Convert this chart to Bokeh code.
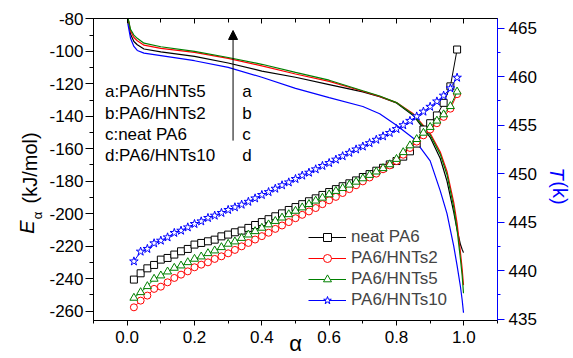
import math
from bokeh.plotting import figure
from bokeh.models import (Range1d, LinearAxis, SingleIntervalTicker, FixedTicker, Label, Arrow,
                          NormalHead, Legend, LegendItem, PrintfTickFormatter)
from bokeh.embed import file_html
from bokeh.resources import INLINE

# ---------------- data ----------------
alpha_pts = [0.02, 0.04, 0.06, 0.08, 0.10, 0.12, 0.14, 0.16, 0.18, 0.20,
             0.22, 0.24, 0.26, 0.28, 0.30, 0.32, 0.34, 0.36, 0.38, 0.40,
             0.42, 0.44, 0.46, 0.48, 0.50, 0.52, 0.54, 0.56, 0.58, 0.60,
             0.62, 0.64, 0.66, 0.68, 0.70, 0.72, 0.74, 0.76, 0.78, 0.80,
             0.82, 0.84, 0.86, 0.88, 0.90, 0.92, 0.94, 0.96, 0.98]

T_neat = [439.07, 439.72, 440.23, 440.58, 441.13, 441.30, 441.65, 441.99, 442.23, 442.68,
          442.85, 443.02, 443.19, 443.53, 443.71, 443.95, 444.12, 444.40, 444.70, 445.00,
          445.30, 445.60, 445.90, 446.25, 446.55, 446.85, 447.15, 447.45, 447.80, 448.10,
          448.40, 448.70, 449.00, 449.30, 449.65, 449.95, 450.30, 450.60, 450.95, 451.30,
          451.75, 452.30, 453.10, 454.55, 455.20, 456.00, 457.30, 459.00, 462.80]

T_hnt2 = [436.21, 436.90, 437.42, 438.11, 438.34, 438.79, 439.24, 439.58, 439.92, 440.34,
          440.61, 440.85, 441.20, 441.47, 441.78, 442.13, 442.50, 442.85, 443.20, 443.55,
          443.90, 444.30, 444.65, 445.00, 445.40, 445.75, 446.10, 446.45, 446.85, 447.25,
          447.60, 448.00, 448.40, 448.80, 449.20, 449.60, 450.00, 450.45, 450.85, 451.30,
          451.95, 452.65, 453.30, 453.95, 454.55, 455.20, 455.85, 456.70, 458.20]

T_hnt5 = [437.18, 437.76, 438.38, 439.14, 439.48, 439.89, 440.27, 440.51, 440.85, 441.20,
          441.44, 441.78, 442.06, 442.40, 442.75, 442.99, 443.35, 443.70, 444.05, 444.40,
          444.75, 445.10, 445.45, 445.80, 446.15, 446.50, 446.85, 447.20, 447.50, 447.85,
          448.20, 448.50, 448.85, 449.15, 449.50, 449.85, 450.20, 450.55, 450.95, 451.50,
          452.20, 452.90, 453.55, 454.20, 454.80, 455.45, 456.10, 456.95, 458.45]

T_hnt10 = [440.95, 441.96, 442.24, 442.82, 443.09, 443.43, 443.89, 444.12, 444.46, 444.81,
           445.08, 445.43, 445.67, 445.95, 446.26, 446.53, 446.80, 447.10, 447.45, 447.80,
           448.10, 448.45, 448.80, 449.10, 449.45, 449.80, 450.10, 450.45, 450.80, 451.10,
           451.45, 451.80, 452.15, 452.50, 452.80, 453.15, 453.50, 453.85, 454.20, 454.60,
           455.00, 455.45, 455.90, 456.40, 456.90, 457.45, 458.05, 458.80, 459.90]

ea_alpha = [0.002, 0.01, 0.02, 0.03, 0.05, 0.1, 0.2, 0.3, 0.4, 0.5, 0.6, 0.7, 0.75,
            0.8, 0.85, 0.9, 0.93, 0.95, 0.97, 0.98, 0.99, 0.995, 0.999]
Ea_hnt5 = [-79, -86.5, -90.0, -92.0, -95.0, -97.2, -100.1, -103.8, -108.0, -113.0, -117.8,
           -124.3, -127.5, -131.6, -139.0, -151.5, -163.5, -176, -196, -210, -228, -238, -249]
Ea_hnt2 = [-79, -87.5, -91.5, -93.5, -96.2, -98.2, -100.7, -104.4, -109.0, -114.0, -118.5,
           -124.6, -127.8, -131.6, -138.5, -150.5, -162, -174, -193, -206, -224, -234, -244]
Ea_neat = [-79, -89.5, -94.0, -96.0, -98.6, -100.3, -103.1, -107.2, -112.2, -116.0, -120.5,
           -125.0, -128.0, -131.8, -139.5, -153, -166, -180, -199, -210, -219, -222, -224]
Ea_hnt10 = [-83, -92, -97.0, -99.5, -101.1, -102.7, -105.8, -109.9, -116.0, -122.8, -128.5,
            -134.0, -138.5, -145.5, -153.5, -167.5, -186, -200, -220, -232, -245, -253, -261]

series_names = ["neat PA6", "PA6/HNTs2", "PA6/HNTs5", "PA6/HNTs10"]
note_lines = ["a:PA6/HNTs5", "b:PA6/HNTs2", "c:neat PA6", "d:PA6/HNTs10"]
note_letters = ["a", "b", "c", "d"]

FONT = "Liberation Sans"
W, H = 573, 358

# ---------------- figure ----------------
p = figure(width=W, height=H, x_range=Range1d(-0.1, 1.1),
           y_range=Range1d(-265.8, -79.8), output_backend="svg",
           toolbar_location=None, min_border_left=93, min_border_right=75,
           min_border_top=18, min_border_bottom=38)
p.extra_y_ranges = {"T": Range1d(434.85, 466.0)}
p.xgrid.visible = False
p.ygrid.visible = False
p.outline_line_color = "black"
p.outline_line_width = 1
p.background_fill_color = "white"
p.border_fill_color = "white"

def style_axis(ax, color="black"):
    ax.axis_line_color = color
    ax.major_tick_line_color = color
    ax.minor_tick_line_color = color
    ax.axis_line_width = 1
    ax.major_tick_line_width = 1
    ax.minor_tick_line_width = 1
    ax.major_label_text_font = FONT
    ax.major_label_text_font_size = "17px"
    ax.major_label_text_color = "black"

xa = p.xaxis[0]
xa.ticker = SingleIntervalTicker(interval=0.2, num_minor_ticks=2)
xa.formatter = PrintfTickFormatter(format="%.1f")
style_axis(xa)
xa.major_tick_out = 5
xa.major_tick_in = 0
xa.minor_tick_out = 3
xa.minor_tick_in = 0
xa.major_label_standoff = 5
xa.axis_label = "α"
xa.axis_label_text_font = FONT
xa.axis_label_text_font_size = "22px"
xa.axis_label_text_font_style = "normal"
xa.axis_label_text_color = "black"
xa.axis_label_standoff = -15

ya = p.yaxis[0]
ya.ticker = SingleIntervalTicker(interval=20, num_minor_ticks=2)
ya.formatter = PrintfTickFormatter(format="%d")
style_axis(ya)
ya.major_tick_out = 8
ya.major_tick_in = 0
ya.minor_tick_out = 4
ya.minor_tick_in = 0
ya.major_label_standoff = 2

ra = LinearAxis(y_range_name="T", ticker=SingleIntervalTicker(interval=5, num_minor_ticks=2),
                formatter=PrintfTickFormatter(format="%d"))
style_axis(ra, "blue")
ra.major_tick_out = 7
ra.major_tick_in = 0
ra.minor_tick_out = 3
ra.minor_tick_in = 0
ra.major_label_standoff = 4
p.add_layout(ra, "right")

ta = LinearAxis(ticker=SingleIntervalTicker(interval=0.2, num_minor_ticks=2))
style_axis(ta)
ta.major_tick_out = 0
ta.major_tick_in = 5
ta.minor_tick_out = 0
ta.minor_tick_in = 4
ta.major_label_overrides = {0: "", 0.2: "", 0.4: "", 0.6: "", 0.8: "", 1: ""}
ta.major_label_text_font_size = "1px"
ta.major_label_standoff = 0
p.add_layout(ta, "above")

# axis titles made of text-only axes (tick label = title piece, placed at its own position)
def title_axis(pos, text, size, style, color, standoff):
    ax = LinearAxis(ticker=FixedTicker(ticks=[pos], minor_ticks=[]))
    ax.major_label_overrides = {pos: text}
    ax.axis_line_color = None
    ax.major_tick_line_color = None
    ax.minor_tick_line_color = None
    ax.major_tick_out = 0
    ax.major_tick_in = 0
    ax.minor_tick_out = 0
    ax.minor_tick_in = 0
    ax.major_label_orientation = "parallel"
    ax.major_label_text_font = FONT
    ax.major_label_text_font_size = size
    ax.major_label_text_font_style = style
    ax.major_label_text_color = color
    ax.major_label_standoff = standoff
    return ax

p.add_layout(title_axis(-201.1, "α", "13px", "normal", "black", 1), "left")
p.add_layout(title_axis(-171.8, "(kJ/mol)", "20px", "normal", "black", -14), "left")
p.add_layout(title_axis(-208.2, "E", "20px", "italic", "black", -22), "left")

p.add_layout(title_axis(-175.4, "T", "20px", "italic", "blue", 6), "right")
p.add_layout(title_axis(-187.3, "(k)", "20px", "normal", "blue", -22), "right")

colors = ["black", "red", "green", "blue"]
markers = ["square", "circle", "triangle", "star"]
sizes = [7, 7, 8, 9]
Ts = [T_neat, T_hnt2, T_hnt5, T_hnt10]
Eas = [Ea_neat, Ea_hnt2, Ea_hnt5, Ea_hnt10]

for c, ea in zip(colors, Eas):
    p.line(ea_alpha, ea, line_color=c, line_width=1.2)

items = []
for name, c, m, s, T in zip(series_names, colors, markers, sizes, Ts):
    l = p.line(alpha_pts, T, line_color=c, line_width=1, y_range_name="T")
    sc = p.scatter(alpha_pts, T, marker=m, size=s, fill_color="white",
                   line_color=c, line_width=1, y_range_name="T")
    items.append(LegendItem(label=name, renderers=[l, sc]))

legend = Legend(items=items, location=(215, 10), padding=0, margin=0, spacing=1,
                glyph_width=38, glyph_height=20, label_height=20,
                label_text_font=FONT, label_text_font_size="17px",
                label_standoff=5, border_line_color=None,
                background_fill_alpha=0)
p.add_layout(legend)

note_y = [-124.75, -138.5, -151.4, -164.2]
for t, y in zip(note_lines, note_y):
    p.add_layout(Label(x=-0.066, y=y, text=t, text_font=FONT,
                       text_font_size="17px", text_baseline="middle",
                       text_align="left", text_color="black"))
for t, y in zip(note_letters, note_y):
    p.add_layout(Label(x=0.342, y=y, text=t, text_font=FONT,
                       text_font_size="17px", text_baseline="middle",
                       text_align="left", text_color="black"))

p.add_layout(Arrow(end=NormalHead(size=9, fill_color="black", line_color="black"),
                   x_start=0.3145, y_start=-155.0, x_end=0.3145, y_end=-87.2,
                   line_color="black", line_width=1))

open("out.html", "w").write(file_html(p, INLINE))
